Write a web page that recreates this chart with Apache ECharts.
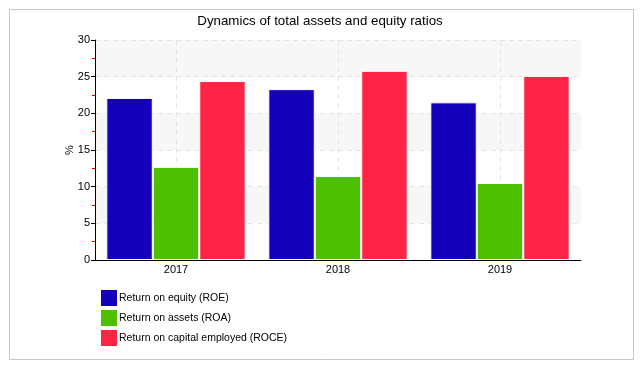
<!DOCTYPE html>
<html><head><meta charset="utf-8">
<script src="https://cdn.jsdelivr.net/npm/echarts@6/dist/echarts.min.js"></script>
<style>html,body{margin:0;padding:0;background:#fff}#c{width:640px;height:365px}</style>
</head><body><div id="c"></div>
<script>
var categories = ['2017', '2018', '2019'];
var seriesNames = ['Return on equity (ROE)', 'Return on assets (ROA)', 'Return on capital employed (ROCE)'];
var roe = [22.1, 23.3, 21.5];
var roa = [12.7, 11.45, 10.5];
var roce = [24.4, 25.8, 25.1];
var colors = ['#1400b8', '#4bbf00', '#ff2446'];
var FONT = 'Liberation Sans';

var chart = echarts.init(document.getElementById('c'), null, {renderer: 'canvas'});
function bar(name, data, color) {
  return {name: name, type: 'bar', data: data, barGap: '0%', barCategoryGap: '14%',
    itemStyle: {color: color, borderColor: '#fff', borderWidth: 1}};
}
chart.setOption({
  animation: false,
  textStyle: {fontFamily: FONT},
  title: {text: 'Dynamics of total assets and equity ratios', left: 'center', top: 10,
    textStyle: {fontFamily: FONT, fontSize: 13.3, fontWeight: 'normal', color: '#000'}},
  graphic: [{type: 'rect', left: 7, top: 7, shape: {width: 624, height: 350},
    style: {fill: 'none', stroke: '#c8c8c8', lineWidth: 1}, silent: true, z: -10}],
  grid: {left: 95, right: 59, top: 40, bottom: 105},
  legend: {orient: 'vertical', left: 99, top: 288, padding: 0, itemWidth: 18, itemHeight: 18, itemGap: 0,
    icon: 'rect', textStyle: {fontFamily: FONT, fontSize: 10.5, color: '#000', padding: [0,0,0,-4]},
    data: seriesNames},
  xAxis: {type: 'category', data: categories,
    axisLine: {lineStyle: {color: '#000'}},
    axisTick: {alignWithLabel: true, length: 3, lineStyle: {color: '#000'}},
    axisLabel: {color: '#000', fontSize: 11, margin: 4, fontFamily: FONT},
    splitLine: {show: true, alignWithLabel: true, lineStyle: {color: '#e4e4e4', type: [5, 4]}}},
  yAxis: {type: 'value', min: 0, max: 30, interval: 5, name: '%', nameLocation: 'middle', nameGap: 20,
    nameMoveOverlap: false,
    nameTextStyle: {color: '#000', fontSize: 11, fontFamily: FONT},
    axisLine: {show: true, lineStyle: {color: '#000'}},
    axisTick: {show: true, length: 4, lineStyle: {color: '#000'}},
    minorTick: {show: true, splitNumber: 2, length: 3, lineStyle: {color: '#e00000'}},
    axisLabel: {color: '#000', fontSize: 11, margin: 5, fontFamily: FONT},
    splitLine: {show: true, lineStyle: {color: '#e4e4e4', type: [5, 4]}},
    splitArea: {show: true, areaStyle: {color: ['#ffffff', '#f7f7f7']}}},
  series: [bar(seriesNames[0], roe, colors[0]), bar(seriesNames[1], roa, colors[1]), bar(seriesNames[2], roce, colors[2])]
});
</script></body></html>
